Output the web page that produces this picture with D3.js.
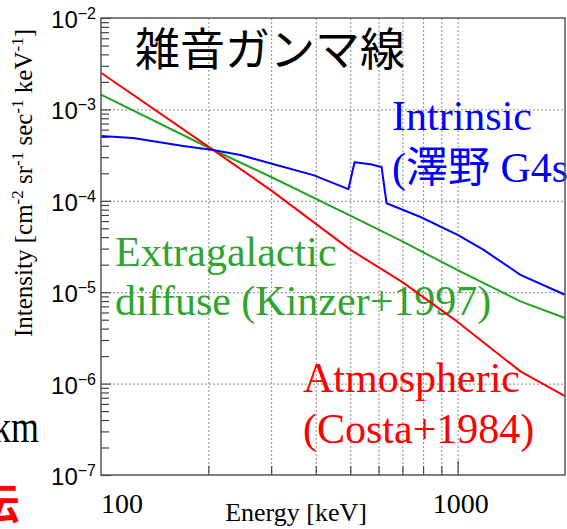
<!DOCTYPE html>
<html>
<head>
<meta charset="utf-8">
<script src="https://cdn.jsdelivr.net/npm/d3@7"></script>
<style>
  body { margin: 0; background: #fff; }
  svg { display: block; }
</style>
</head>
<body>
<svg id="chart" width="567" height="529"></svg>
<script>
// Background gamma-ray spectra: energy [keV] vs intensity [cm^-2 sr^-1 s^-1 keV^-1]
const atmosphericEnergy = [100, 200, 300, 500, 700, 1000, 1500, 2000];
const atmosphericIntensity = [2.52e-3, 3.92e-4, 1.30e-4, 2.92e-5, 1.29e-5, 4.73e-6, 1.36e-6, 7.31e-7];

const diffuseEnergy = [100, 200, 300, 500, 700, 1000, 1500, 2000];
const diffuseIntensity = [1.45e-3, 3.83e-4, 1.82e-4, 6.90e-5, 3.59e-5, 1.74e-5, 7.94e-6, 5.22e-6];

const intrinsicEnergy = [100, 123, 170, 206, 246, 298, 394, 494, 514, 570, 612, 632, 787, 1000, 1183, 1500, 2000];
const intrinsicIntensity = [5.12e-4, 4.86e-4, 3.98e-4, 3.60e-4, 3.17e-4, 2.57e-4, 1.91e-4, 1.34e-4,
                            2.64e-4, 2.51e-4, 2.34e-4, 9.40e-5, 6.65e-5, 4.23e-5, 2.90e-5, 1.55e-5, 9.38e-6];

const yDecadeExponents = [-2, -3, -4, -5, -6, -7];
const xTickLabels = [100, 1000];
const xGridValues = [200, 300, 400, 500, 600, 700, 800, 900, 1000];

const svg = d3.select("#chart");
const plotLeft = 101, plotRight = 565, plotTop = 18, plotBottom = 475;

const x = d3.scaleLog().domain([100, 2000]).range([plotLeft, plotRight]);
const y = d3.scaleLog().domain([1e-7, 1e-2]).range([plotBottom, plotTop]);

const serif = "'Liberation Serif', 'Times New Roman', serif";
const sans = "'Liberation Sans', Arial, sans-serif";
const cjk = "'Noto Sans CJK JP', sans-serif";

// dotted grid
const grid = svg.append("g").attr("stroke", "#8a8a8a").attr("stroke-width", 1).attr("stroke-dasharray", "2,2");
grid.selectAll("line.v").data(xGridValues).join("line").attr("class", "v")
  .attr("x1", d => x(d) + 0.5).attr("x2", d => x(d) + 0.5)
  .attr("y1", plotTop).attr("y2", plotBottom);
grid.selectAll("line.h").data(yDecadeExponents.filter(e => e > -7 && e < -2)).join("line").attr("class", "h")
  .attr("x1", plotLeft).attr("x2", plotRight)
  .attr("y1", d => y(Math.pow(10, d)) + 0.5).attr("y2", d => y(Math.pow(10, d)) + 0.5);

// ticks on the inside of the left and bottom axes
const yMinor = [];
for (let e = -7; e < -2; e++) for (let k = 2; k <= 9; k++) yMinor.push(k * Math.pow(10, e));
const yMajor = yDecadeExponents.map(e => Math.pow(10, e));
const xMinor = [200, 300, 400, 500, 600, 700, 800, 900];

function tickStyle(g) {
  g.select(".domain").remove();
  g.selectAll("line").attr("stroke", "#444").attr("stroke-width", 1.2);
}
svg.append("g").attr("transform", `translate(${plotLeft},0)`)
  .call(d3.axisLeft(y).tickValues(yMinor).tickSize(-8).tickFormat("")).call(tickStyle);
svg.append("g").attr("transform", `translate(${plotLeft},0)`)
  .call(d3.axisLeft(y).tickValues(yMajor).tickSize(-10).tickFormat("")).call(tickStyle);
svg.append("g").attr("transform", `translate(0,${plotBottom})`)
  .call(d3.axisBottom(x).tickValues(xMinor).tickSize(-9).tickFormat("")).call(tickStyle);
svg.append("g").attr("transform", `translate(0,${plotBottom})`)
  .call(d3.axisBottom(x).tickValues([1000]).tickSize(-14).tickFormat("")).call(tickStyle);

// annotations
function multiline(lines, x0, baselines, color, size) {
  lines.forEach((t, i) => {
    svg.append("text").attr("x", x0).attr("y", baselines[i])
      .attr("font-family", serif + ", 'Noto Sans CJK JP'").attr("font-size", size)
      .attr("fill", color).text(t);
  });
}
multiline(["Intrinsic", "(澤野 G4s"], 392, [130, 182], "#0000ff", 42);
multiline(["Extragalactic", "diffuse (Kinzer+1997)"], 115, [266, 315], "#2ea52e", 42);
multiline(["Atmospheric", "(Costa+1984)"], 303, [392, 443], "#ff0000", 42);

svg.append("text").attr("x", 135).attr("y", 66)
  .attr("font-family", cjk).attr("font-size", 45).attr("fill", "#000")
  .text("雑音ガンマ線");

// spectra
const line = d3.line().x(d => x(d[0])).y(d => y(d[1]));
const series = [
  { e: diffuseEnergy, v: diffuseIntensity, color: "#1fa51f" },
  { e: atmosphericEnergy, v: atmosphericIntensity, color: "#ff0000" },
  { e: intrinsicEnergy, v: intrinsicIntensity, color: "#0000ff" }
];
series.forEach(s => {
  svg.append("path").datum(d3.zip(s.e, s.v))
    .attr("fill", "none").attr("stroke", s.color).attr("stroke-width", 2)
    .attr("stroke-linejoin", "round").attr("d", line);
});

// frame
svg.append("rect").attr("x", plotLeft).attr("y", plotTop)
  .attr("width", plotRight - plotLeft).attr("height", plotBottom - plotTop)
  .attr("fill", "none").attr("stroke", "#555").attr("stroke-width", 1.5);

// y tick labels 10^n
yDecadeExponents.forEach(e => {
  const t = svg.append("text").attr("x", 96).attr("y", y(Math.pow(10, e)) + 10)
    .attr("text-anchor", "end").attr("font-family", sans).attr("fill", "#000");
  t.append("tspan").attr("font-size", 24).text("10");
  t.append("tspan").attr("font-size", 16).attr("dy", -9).text("\u2212" + (-e));
});

// x tick labels
svg.selectAll("text.xl").data(xTickLabels).join("text").attr("class", "xl")
  .attr("x", d => d === 100 ? x(d) : x(d) + 3)
  .attr("y", 513)
  .attr("text-anchor", d => d === 100 ? "start" : "middle")
  .attr("font-family", serif).attr("font-size", 28).attr("fill", "#000")
  .text(d => d);

// axis titles
svg.append("text").attr("x", 296).attr("y", 521).attr("text-anchor", "middle")
  .attr("font-family", serif).attr("font-size", 26).attr("fill", "#000")
  .text("Energy [keV]");

const yt = svg.append("text")
  .attr("transform", "translate(32,183) rotate(-90)")
  .attr("text-anchor", "middle").attr("font-family", serif).attr("fill", "#000").attr("font-size", 25);
[["Intensity [cm", 0], ["-2", 1], [" sr", 0], ["-1", 1], [" sec", 0], ["-1", 1], [" keV", 0], ["-1", 1], ["]", 0]]
  .forEach(([t, sup], i) => {
    yt.append("tspan").attr("font-size", sup ? 17 : 25).attr("dy", i === 0 ? 0 : (sup ? -9 : 9)).text(t);
  });

// fragments of neighbouring slide text at the left edge
svg.append("text").attr("transform", "translate(-7,442) scale(0.78,1)")
  .attr("font-family", serif).attr("font-size", 46).attr("fill", "#000").text("km");
svg.append("text").attr("x", 19).attr("y", 519).attr("text-anchor", "end")
  .attr("font-family", cjk).attr("font-weight", "bold").attr("font-size", 42).attr("fill", "#ff0000").text("伝");
</script>
</body>
</html>
